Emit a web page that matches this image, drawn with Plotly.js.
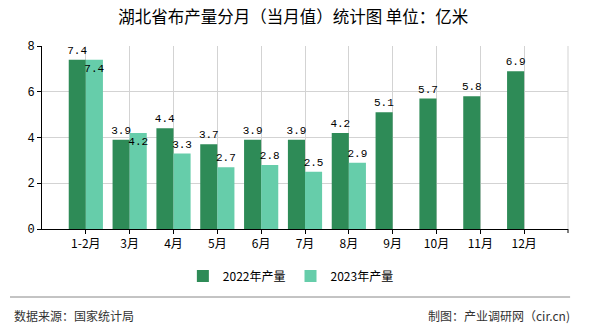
<!DOCTYPE html>
<html>
<head>
<meta charset="utf-8">
<script src="https://cdn.plot.ly/plotly-3.0.1.min.js"></script>
<style>html,body{margin:0;padding:0;background:#fff;}#chart{width:590px;height:330px;}</style>
</head>
<body>
<div id="chart"></div>
<script>
const categories = ["1-2月","3月","4月","5月","6月","7月","8月","9月","10月","11月","12月"];
const values2022 = [7.4, 3.9, 4.4, 3.7, 3.9, 3.9, 4.2, 5.1, 5.7, 5.8, 6.9];
const values2023 = [7.4, 4.2, 3.3, 2.7, 2.8, 2.5, 2.9, null, null, null, null];
const labelPos2023 = ["inside","inside","outside","outside","outside","outside","outside","outside","outside","outside","outside"];
const yTicks = [0, 2, 4, 6, 8];

const labelFont = {family: "Liberation Mono, DejaVu Sans Mono, monospace", size: 11, color: "#000"};

const traces = [
  {
    type: "bar", name: "2022年产量", x: categories, y: values2022,
    marker: {color: "#2E8B57"},
    text: values2022.map(v => v == null ? "" : v.toFixed(1)),
    textposition: "outside", textangle: 0, textfont: labelFont, outsidetextfont: labelFont,
    constraintext: "none", cliponaxis: false, hoverinfo: "none"
  },
  {
    type: "bar", name: "2023年产量", x: categories, y: values2023,
    marker: {color: "#66CDAA"},
    text: values2023.map(v => v == null ? "" : v.toFixed(1)),
    textposition: labelPos2023, insidetextanchor: "end", textangle: 0,
    textfont: labelFont, outsidetextfont: labelFont, insidetextfont: labelFont,
    constraintext: "none", cliponaxis: false, hoverinfo: "none"
  }
];

const layout = {
  width: 590, height: 330,
  margin: {l: 42, r: 22, t: 46, b: 101, autoexpand: false},
  paper_bgcolor: "#fff", plot_bgcolor: "#fff",
  title: {
    text: "湖北省布产量分月（当月值）统计图 单位：亿米",
    font: {family: "Noto Sans CJK SC", size: 16.5, color: "#000"},
    x: 0.497, xref: "container", xanchor: "center",
    y: 0.948, yref: "container", yanchor: "middle"
  },
  barmode: "group", bargap: 0.22, bargroupgap: 0,
  xaxis: {
    type: "category", categoryarray: categories, range: [-1, 11],
    showgrid: true, gridcolor: "#d3d3d3", gridwidth: 1,
    showline: true, linecolor: "#000", linewidth: 1,
    ticks: "outside", ticklen: 4, tickcolor: "#000", tickangle: 0,
    tickfont: {family: "Noto Sans CJK SC", size: 12, color: "#000"},
    zeroline: false, fixedrange: true, automargin: false
  },
  yaxis: {
    range: [0, 8], tickvals: yTicks, ticktext: yTicks.map(String),
    showgrid: true, gridcolor: "#d3d3d3", gridwidth: 1,
    showline: true, linecolor: "#000", linewidth: 1,
    ticks: "outside", ticklen: 4, tickcolor: "#000",
    tickfont: {family: "Liberation Mono, DejaVu Sans Mono, monospace", size: 12, color: "#000"},
    zeroline: false, fixedrange: true, automargin: false
  },
  legend: {
    orientation: "h", xref: "container", x: 0.493, xanchor: "center",
    yref: "container", y: 0.164, yanchor: "middle",
    font: {family: "Noto Sans CJK SC", size: 12, color: "#000"},
    itemwidth: 30, traceorder: "normal"
  },
  shapes: [
    {type: "line", xref: "paper", yref: "paper", x0: 1, x1: 1, y0: 0, y1: 1,
     line: {color: "#d3d3d3", width: 1}},
    {type: "line", xref: "paper", yref: "paper", x0: 1, x1: 1, y0: 0, y1: -0.022,
     line: {color: "#000", width: 1}},
    {type: "line", xref: "paper", yref: "paper", x0: -0.0608, x1: 1.004, y0: -0.3716, y1: -0.3716,
     line: {color: "#888", width: 1}}
  ],
  annotations: [
    {text: "数据来源：国家统计局", xref: "paper", yref: "paper", x: -0.057, y: -0.47,
     xanchor: "left", yanchor: "middle", showarrow: false,
     font: {family: "Noto Sans CJK SC", size: 12, color: "#333"}},
    {text: "制图：产业调研网（cir.cn)", xref: "paper", yref: "paper", x: 1.0076, y: -0.47,
     xanchor: "right", yanchor: "middle", showarrow: false,
     font: {family: "Noto Sans CJK SC", size: 12, color: "#333"}}
  ],
  showlegend: true
};

Plotly.newPlot("chart", traces, layout, {displayModeBar: false, staticPlot: true});
</script>
</body>
</html>
